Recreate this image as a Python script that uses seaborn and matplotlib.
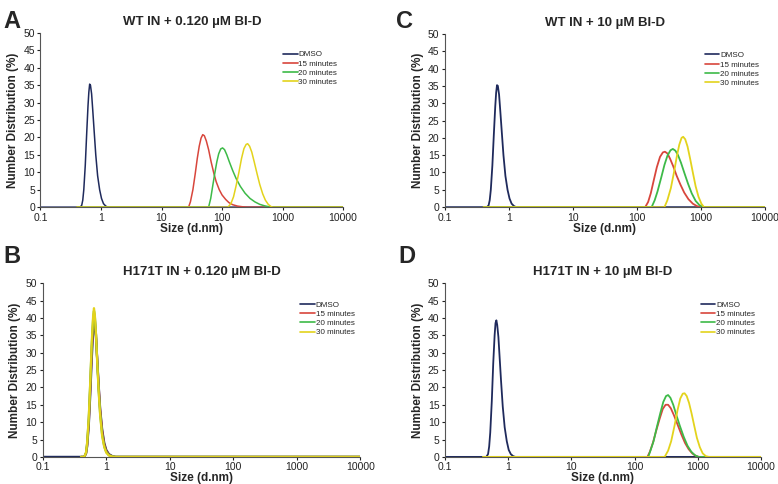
import matplotlib
matplotlib.use("Agg")
import matplotlib.pyplot as plt
import seaborn as sns

sns.set_theme(style="white")
plt.rcParams["font.family"] = ["Liberation Sans", "DejaVu Sans"]

SERIES = ["DMSO", "15 minutes", "20 minutes", "30 minutes"]
COLORS = {"DMSO": "#1f2a5c", "15 minutes": "#d8463c",
          "20 minutes": "#3dba48", "30 minutes": "#e3d31c"}

# ── DMSO peaks (sizes in d.nm, values in %) ──
DMSO_X = [0.1, 0.45, 0.48, 0.5, 0.52, 0.55, 0.58, 0.61, 0.63, 0.65, 0.67, 0.7,
          0.73, 0.77, 0.82, 0.88, 0.95, 1.02, 1.1, 1.2, 1.3, 10000]
A_DMSO_Y = [0, 0, 0.5, 2, 5, 12, 21, 29, 33, 35.3, 35, 32.5,
            28, 22, 15, 9, 5, 2.5, 1, 0.3, 0, 0]
C_DMSO_Y = [0, 0, 0.5, 2, 5, 12, 21, 29, 33, 35.2, 35, 32.5,
            28, 22, 15, 9, 5, 2.5, 1, 0.3, 0, 0]
D_DMSO_Y = [0, 0, 0.8, 3, 7, 16, 27, 35, 38.5, 39.3, 38, 34.5,
            29, 22, 14.5, 8.5, 4.5, 2, 0.8, 0.2, 0, 0]

# ── Panel A: WT IN + 0.120 µM ──
A_15_X = [0.4, 28, 30, 33, 36, 39, 42, 45, 48, 51, 55, 60, 66, 73, 80, 90,
          100, 115, 130, 150, 180, 220, 260, 10000]
A_15_Y = [0, 0, 1.5, 5, 9.5, 14, 17.5, 19.8, 20.8, 20.5, 19, 16.5, 13, 9.8, 7.3, 5,
          3.5, 2.2, 1.3, 0.7, 0.3, 0.1, 0, 0]
A_20_X = [0.4, 60, 65, 70, 76, 82, 88, 95, 102, 110, 120, 132, 150, 170, 200,
          240, 290, 350, 420, 500, 600, 680, 10000]
A_20_Y = [0, 0, 2.5, 6, 9.8, 13, 15.3, 16.7, 17, 16.5, 15, 13, 10.5, 8.3, 6,
          4, 2.5, 1.5, 0.8, 0.4, 0.1, 0, 0]
A_30_X = [0.4, 125, 140, 155, 170, 190, 210, 230, 250, 265, 285, 310, 340, 380,
          420, 470, 520, 580, 640, 690, 10000]
A_30_Y = [0, 0, 1, 3, 6, 10, 14, 16.8, 18, 18.2, 17.5, 15.8, 13, 9.5,
          6.5, 3.8, 2, 0.8, 0.2, 0, 0]

# ── Panel C: WT IN + 10 µM ──
C_15_X = [0.4, 135, 150, 165, 185, 205, 230, 255, 275, 300, 330, 370, 420, 480,
          550, 640, 750, 870, 1000, 10000]
C_15_Y = [0, 0, 1.5, 4, 8, 11.5, 14.5, 15.8, 16, 15.5, 14, 11.8, 9, 6.5,
          4.2, 2.3, 1, 0.3, 0, 0]
C_20_X = [0.4, 170, 190, 210, 240, 270, 300, 335, 365, 400, 440, 490, 550, 630,
          720, 830, 950, 1100, 10000]
C_20_Y = [0, 0, 2, 4.5, 8.5, 12.2, 14.8, 16.4, 16.8, 16.3, 15, 12.8, 10, 6.8,
          4, 1.8, 0.6, 0, 0]
C_30_X = [0.4, 270, 300, 340, 380, 420, 460, 500, 530, 570, 620, 680, 750, 830,
          920, 1020, 1120, 10000]
C_30_Y = [0, 0, 2, 5.5, 10, 14.5, 18, 20, 20.3, 19.6, 17.5, 14, 10, 6,
          3, 1, 0, 0]

# ── Panel B: H171T IN + 0.120 µM (all peaks overlap) ──
B_DMSO_X = [0.1, 0.45, 0.48, 0.5, 0.53, 0.56, 0.59, 0.62, 0.64, 0.66, 0.69, 0.72,
            0.76, 0.8, 0.86, 0.93, 1.0, 1.1, 1.25, 1.4, 10000]
B_X = [0.4, 0.45, 0.48, 0.5, 0.53, 0.56, 0.59, 0.62, 0.64, 0.66, 0.69, 0.72,
       0.76, 0.8, 0.86, 0.93, 1.0, 1.1, 1.25, 1.4, 10000]
B_DMSO_Y = [0, 0, 1, 3, 9, 18, 28, 36, 38.5, 38, 34, 28, 20.5, 14, 8, 4, 2, 0.8, 0.2, 0, 0]
B_15_Y = [0, 0, 1, 3.5, 10, 20, 30.5, 38, 40.5, 39.5, 35, 28, 20, 13.5, 7.5, 3.5, 1.7, 0.6, 0.1, 0, 0]
B_20_Y = [0, 0, 1.2, 4, 11, 21.5, 32, 39.5, 42, 40.5, 35, 27.5, 19, 12.5, 6.5, 3, 1.4, 0.5, 0.1, 0, 0]
B_30_Y = [0, 0, 1.3, 4.2, 11.5, 22, 33, 40.5, 42.8, 41, 35, 27, 18.5, 12, 6, 2.8, 1.2, 0.4, 0.1, 0, 0]

# ── Panel D: H171T IN + 10 µM ──
D_15_X = [0.4, 160, 175, 195, 220, 250, 280, 310, 340, 375, 420, 480, 550, 630,
          720, 820, 930, 1050, 10000]
D_15_Y = [0, 0, 1.5, 4, 7.5, 11, 13.8, 15, 15, 14, 12, 9.3, 6.5, 4,
          2.2, 1, 0.3, 0, 0]
D_20_X = [0.4, 165, 180, 200, 225, 255, 285, 315, 340, 370, 410, 460, 520, 600,
          690, 790, 900, 1020, 10000]
D_20_Y = [0, 0, 2, 4.5, 8.5, 12.5, 15.8, 17.5, 17.8, 17, 15, 12, 9, 5.8,
          3.2, 1.5, 0.5, 0, 0]
D_30_X = [0.4, 300, 340, 380, 430, 480, 530, 580, 620, 670, 730, 800, 880, 970,
          1080, 1200, 1350, 1500, 10000]
D_30_Y = [0, 0, 1.8, 4.5, 9, 13.5, 16.8, 18.2, 18.3, 17.5, 15.5, 12.5, 9, 5.5,
          2.8, 1, 0.2, 0, 0]

PANELS = [
    ("A", "WT IN + 0.120 µM BI-D", [0.052, 0.572, 0.389, 0.36], (0.004, 0.955),
     [(DMSO_X, A_DMSO_Y), (A_15_X, A_15_Y), (A_20_X, A_20_Y), (A_30_X, A_30_Y)], 1.1),
    ("C", "WT IN + 10 µM BI-D", [0.572, 0.572, 0.411, 0.358], (0.509, 0.955),
     [(DMSO_X, C_DMSO_Y), (C_15_X, C_15_Y), (C_20_X, C_20_Y), (C_30_X, C_30_Y)], 1.3),
    ("B", "H171T IN + 0.120 µM BI-D", [0.055, 0.056, 0.408, 0.359], (0.004, 0.47),
     [(B_DMSO_X, B_DMSO_Y), (B_X, B_15_Y), (B_X, B_20_Y), (B_X, B_30_Y)], 1.6),
    ("D", "H171T IN + 10 µM BI-D", [0.572, 0.056, 0.406, 0.359], (0.512, 0.47),
     [(DMSO_X, D_DMSO_Y), (D_15_X, D_15_Y), (D_20_X, D_20_Y), (D_30_X, D_30_Y)], 1.3),
]

fig = plt.figure(figsize=(7.78, 4.84), dpi=100, facecolor="white")

for letter, title, rect, lpos, curves, lw in PANELS:
    ax = fig.add_axes(rect)
    for name, (xs, ys) in zip(SERIES, curves):
        sns.lineplot(x=xs, y=ys, ax=ax, color=COLORS[name], label=name,
                     linewidth=lw, sort=False, estimator=None)
    ax.set_xscale("log")
    ax.set_xlim(0.1, 10000)
    ax.set_ylim(0, 50)
    ax.set_xticks([0.1, 1, 10, 100, 1000, 10000])
    ax.set_xticklabels(["0.1", "1", "10", "100", "1000", "10000"])
    ax.minorticks_off()
    ax.set_yticks(range(0, 51, 5))
    ax.tick_params(axis="both", labelsize=7.5, length=2.5, width=0.8,
                   direction="out", colors="#222222", pad=1.5)
    ax.tick_params(axis="both", bottom=True, left=True)
    for s in ["top", "right"]:
        ax.spines[s].set_visible(False)
    for s in ["left", "bottom"]:
        ax.spines[s].set_color("#555555")
        ax.spines[s].set_linewidth(0.8)
    ax.set_xlabel("Size (d.nm)", fontsize=8.5, fontweight="bold", labelpad=0)
    ax.set_ylabel("Number Distribution (%)", fontsize=8.5, fontweight="bold", labelpad=3)
    ax.set_title(title, fontsize=9.5, fontweight="bold", pad=6)
    leg = ax.legend(loc="upper right", bbox_to_anchor=(1.0, 0.93), frameon=False,
                    fontsize=5.8, handlelength=1.8, handletextpad=0.1,
                    labelspacing=0.2, borderaxespad=0.3)
    for h in leg.get_lines():
        h.set_linewidth(1.2)
    fig.text(lpos[0], lpos[1], letter, fontsize=17, fontweight="bold",
             ha="left", va="center")

fig.savefig("out.png", dpi=100, facecolor="white")
